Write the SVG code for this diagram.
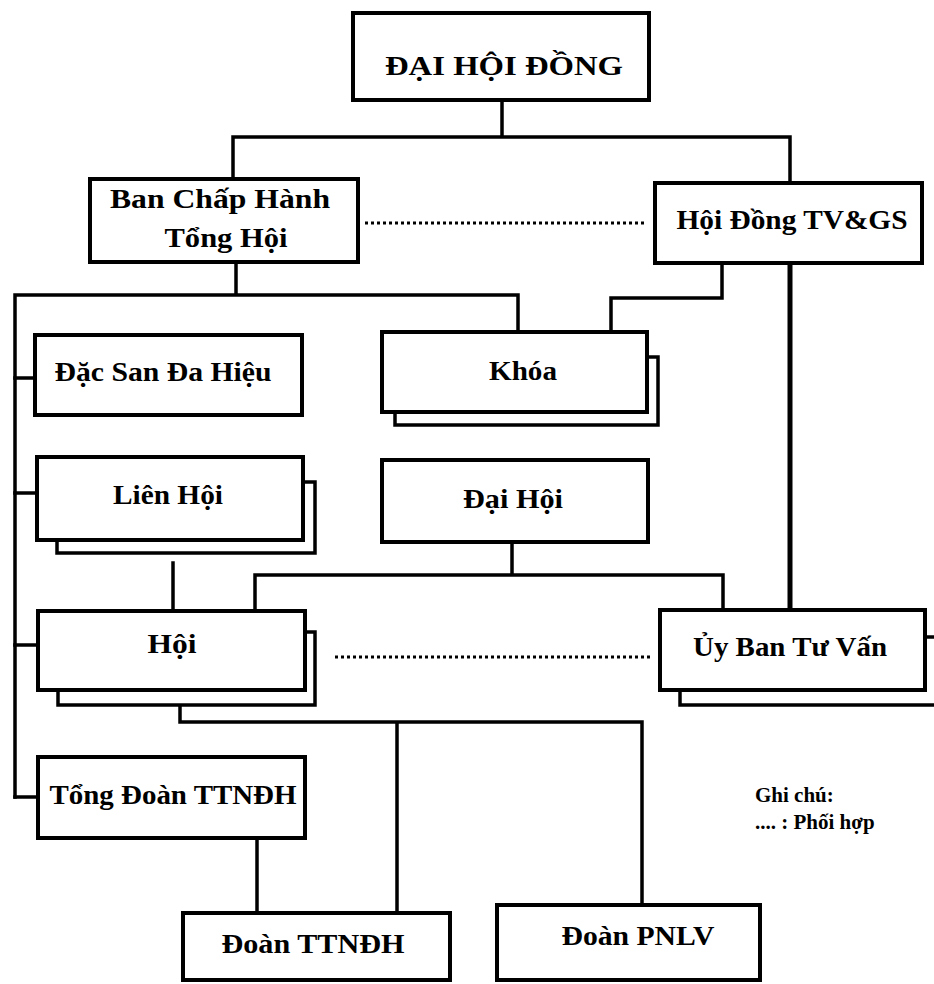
<svg xmlns="http://www.w3.org/2000/svg" width="934" height="984" viewBox="0 0 934 984">
<style>
  .box { fill: #fff; stroke: #000; stroke-width: 4; }
  .shadow { fill: #fff; stroke: #000; stroke-width: 3.5; }
  .t { font-family: "Liberation Serif", "Times New Roman", serif; font-weight: bold; font-size: 28px; fill: #000; text-anchor: middle; }
  .leg { font-family: "Liberation Serif", "Times New Roman", serif; font-weight: bold; font-size: 21px; fill: #000; }
  .c { fill: none; stroke: #000; stroke-width: 3.5; stroke-linejoin: miter; stroke-linecap: square; }
  .ck { fill: none; stroke: #000; stroke-width: 5; }
  .dot { fill: none; stroke: #000; stroke-width: 3; stroke-dasharray: 3 3; }
</style>
<rect x="0" y="0" width="934" height="984" fill="#fff"/>
<g id="connectors">
  <path class="c" d="M502 100 V137 M233 137 H790 M233 137 V179 M790 137 V183"/>
  <path class="c" d="M236 262 V295 M15 295 H518 V332 M15 295 V797"/>
  <path class="c" d="M15 378 H35 M15 493 H37 M15 645 H38 M15 797 H38"/>
  <path class="c" d="M722 263 V298 H611 V332"/>
  <path class="ck" d="M790 263 V610"/>
  <path class="dot" d="M365 223 H645"/>
  <path class="c" d="M173 563 V611"/>
  <path class="c" d="M512 542 V575 M255 611 V575 H723 V610"/>
  <path class="dot" d="M335 657 H652"/>
  <path class="c" d="M180 705 V722 H642 V905 M397 722 V913"/>
  <path class="c" d="M257 838 V913"/>
</g>
<g id="dai-hoi-dong">
  <rect class="box" x="353" y="13" width="296" height="87"/>
  <text class="t" x="504" y="75" font-size="32" textLength="238" lengthAdjust="spacingAndGlyphs">ĐẠI HỘI ĐỒNG</text>
</g>
<g id="ban-chap-hanh">
  <rect class="box" x="90" y="179" width="268" height="83"/>
  <text class="t" x="220" y="208" textLength="220" lengthAdjust="spacingAndGlyphs">Ban Chấp Hành</text>
  <text class="t" x="226" y="247" textLength="123" lengthAdjust="spacingAndGlyphs">Tổng Hội</text>
</g>
<g id="hoi-dong-tvgs">
  <rect class="box" x="655" y="183" width="267" height="80"/>
  <text class="t" x="792" y="229" textLength="231" lengthAdjust="spacingAndGlyphs">Hội Đồng TV&amp;GS</text>
</g>
<g id="dac-san">
  <rect class="box" x="35" y="335" width="267" height="80"/>
  <text class="t" x="163" y="381" textLength="217" lengthAdjust="spacingAndGlyphs">Đặc San Đa Hiệu</text>
</g>
<g id="khoa">
  <rect class="shadow" x="395" y="357" width="263" height="68"/>
  <rect class="box" x="382" y="332" width="265" height="80"/>
  <text class="t" x="523" y="380" textLength="68" lengthAdjust="spacingAndGlyphs">Khóa</text>
</g>
<g id="lien-hoi">
  <rect class="shadow" x="57" y="482" width="258" height="71"/>
  <rect class="box" x="37" y="457" width="266" height="83"/>
  <text class="t" x="168" y="504" textLength="110" lengthAdjust="spacingAndGlyphs">Liên Hội</text>
</g>
<g id="dai-hoi">
  <rect class="box" x="382" y="460" width="266" height="82"/>
  <text class="t" x="513" y="508" textLength="100" lengthAdjust="spacingAndGlyphs">Đại Hội</text>
</g>
<g id="hoi">
  <rect class="shadow" x="58" y="632" width="257" height="73"/>
  <rect class="box" x="38" y="611" width="267" height="79"/>
  <text class="t" x="172" y="653" textLength="49" lengthAdjust="spacingAndGlyphs">Hội</text>
</g>
<g id="uy-ban-tu-van">
  <rect class="shadow" x="680" y="637" width="262" height="68"/>
  <rect class="box" x="660" y="610" width="265" height="80"/>
  <text class="t" x="790" y="656" textLength="194" lengthAdjust="spacingAndGlyphs">Ủy Ban Tư Vấn</text>
</g>
<g id="tong-doan">
  <rect class="box" x="38" y="757" width="267" height="81"/>
  <text class="t" x="173" y="804" textLength="247" lengthAdjust="spacingAndGlyphs">Tổng Đoàn TTNĐH</text>
</g>
<g id="doan-ttndh">
  <rect class="box" x="183" y="913" width="267" height="67"/>
  <text class="t" x="313" y="953" textLength="183" lengthAdjust="spacingAndGlyphs">Đoàn TTNĐH</text>
</g>
<g id="doan-pnlv">
  <rect class="box" x="497" y="905" width="263" height="75"/>
  <text class="t" x="638" y="945" textLength="153" lengthAdjust="spacingAndGlyphs">Đoàn PNLV</text>
</g>
<g id="legend">
  <text class="leg" x="755" y="802">Ghi chú:</text>
  <text class="leg" x="755" y="829">.... : Phối hợp</text>
</g>
</svg>
